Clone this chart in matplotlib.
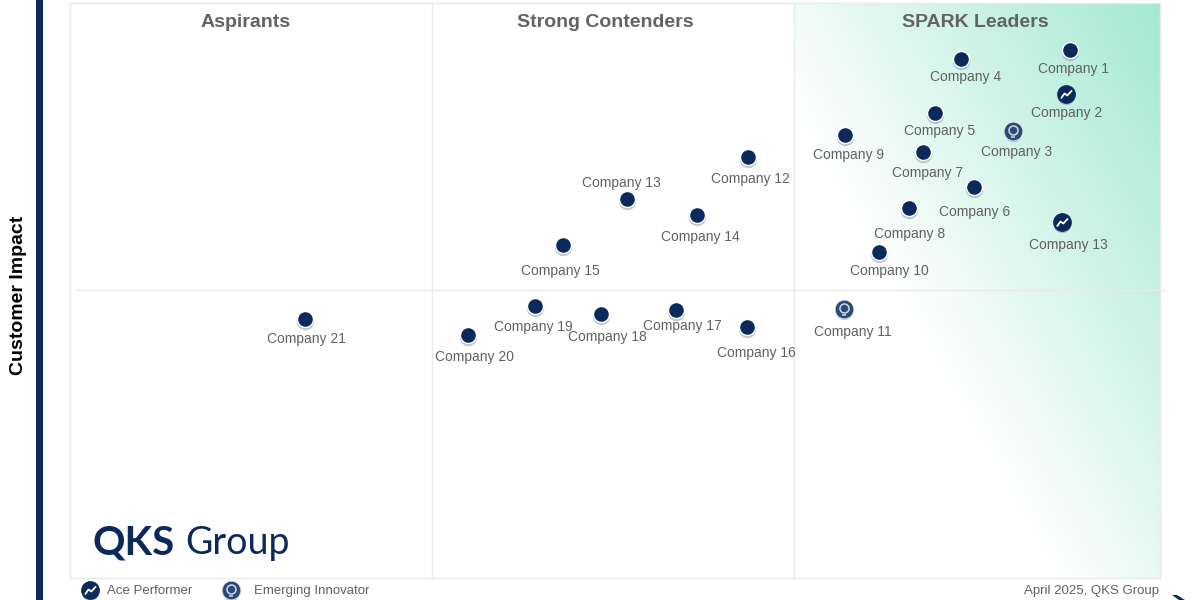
import numpy as np
import matplotlib
matplotlib.use("Agg")
import matplotlib.pyplot as plt
from matplotlib.colors import LinearSegmentedColormap
from matplotlib.patches import Rectangle, Polygon
from matplotlib.path import Path

plt.rcParams['font.family'] = ['Liberation Sans', 'DejaVu Sans']

# --- data (0-100 scales) ---
names = ["Company 1", "Company 2", "Company 3", "Company 4", "Company 5", "Company 6", "Company 7",
         "Company 8", "Company 9", "Company 10", "Company 11", "Company 12", "Company 13", "Company 14",
         "Company 15", "Company 16", "Company 17", "Company 18", "Company 19", "Company 20", "Company 21",
         "Company 13"]
market_impact = [91.7, 91.4, 86.5, 81.7, 79.4, 82.9, 78.3, 77.0, 71.1, 74.2, 71.0,
                 62.2, 51.1, 57.5, 45.2, 62.1, 55.6, 48.7, 42.7, 36.5, 21.6, 91.0]
customer_impact = [91.8, 84.1, 77.7, 90.2, 80.9, 68.0, 74.1, 64.4, 77.1, 56.7, 46.7,
                   73.2, 65.9, 63.2, 57.9, 43.7, 46.6, 45.9, 47.3, 42.3, 45.1, 61.9]
kinds = ["n", "a", "e", "n", "n", "n", "n", "n", "n", "n", "e",
         "n", "n", "n", "n", "n", "n", "n", "n", "n", "n", "a"]
quadrants = ["Aspirants", "Strong Contenders", "SPARK Leaders"]
legend_labels = ["Ace Performer", "Emerging Innovator"]

# label centre offsets from the point, in figure pixels (right, down)
label_offsets = [(4, 19), (0, 19), (4, 21), (5, 18), (4, 18), (1, 25), (4, 21), (0, 26), (4, 20),
                 (11, 19), (9, 23), (2, 22), (-6, -16), (4, 22), (-2, 26), (9, 26), (6, 16), (7, 23),
                 (-2, 21), (7, 22), (1, 20), (6, 23)]

NAVY = "#0b2a5b"
TXT = "#5f6164"
L, R, T, B = 70, 1160, 3, 578

fig = plt.figure(figsize=(12, 6), dpi=100, facecolor="white")
ax = fig.add_axes([L / 1200, 1 - B / 600, (R - L) / 1200, (B - T) / 600])
ax.set_xlim(0, 100)
ax.set_ylim(0, 100)
ax.set_xticks([])
ax.set_yticks([])
for s in ax.spines.values():
    s.set_color("#e8eaec")
    s.set_linewidth(1.0)

# gradient background of leader quadrant
gx, gy = np.meshgrid(np.linspace(1, 0, 300), np.linspace(0, 1, 300))
grad = np.clip(1 - (0.85 * gx + 0.75 * gy), 0, 1)
cmap = LinearSegmentedColormap.from_list("lead", ["#ffffff", "#a3e8d2"])
ax.imshow(grad, extent=(66.4, 100, 0, 100), origin="upper", cmap=cmap, vmin=0, vmax=1,
          aspect="auto", zorder=0)
ax.set_xlim(0, 100)
ax.set_ylim(0, 100)

# quadrant dividers
for xd in (33.2, 66.4):
    ax.plot([xd, xd], [0, 100], color="#e8eaec", lw=1, zorder=1)
ax.plot([0.55, 100.45], [50.1, 50.1], color="#e8eaec", lw=1, zorder=1, clip_on=False)

# quadrant titles
for q, xc in zip(quadrants, (16.15, 49.1, 83.1)):
    ax.text(xc, 96.55, q, ha="center", va="center", fontsize=14, fontweight="bold", color="#636363")

trend = Path([(-0.55, -0.4), (-0.2, 0.1), (0.08, -0.1), (0.55, 0.4)],
             [Path.MOVETO, Path.LINETO, Path.LINETO, Path.LINETO])


def draw_mark(x, y, kind, clip=True):
    kw = dict(clip_on=clip, linestyle="none")
    off_y = -0.35
    ax.plot([x], [y + off_y], marker="o", ms=12.5, mfc="#9aa3ad", mec="none", alpha=0.6, zorder=3, **kw)
    if kind == "n":
        ax.plot([x], [y], marker="o", ms=12.5, mfc="white", mec="none", zorder=4, **kw)
        ax.plot([x], [y], marker="o", ms=10.5, mfc=NAVY, mec="none", zorder=5, **kw)
    elif kind == "a":
        ax.plot([x], [y], marker="o", ms=13.5, mfc=NAVY, mec="none", zorder=5, **kw)
        ax.plot([x], [y], marker=trend, ms=8, mfc="none", mec="white", mew=1.3, zorder=6, **kw)
    else:
        ax.plot([x], [y], marker="o", ms=13.5, mfc="#2c4a78", mec="#dfe5ea", mew=0.6, zorder=5, **kw)
        ax.plot([x], [y + 0.2], marker="o", ms=6.5, mfc="none", mec="#cfd9e6", mew=1.1, zorder=6, **kw)
        ax.plot([x], [y - 0.95], marker="_", ms=3.5, mec="#cfd9e6", mew=1.1, zorder=6, **kw)


for x, y, k, n, (dx, dy) in zip(market_impact, customer_impact, kinds, names, label_offsets):
    draw_mark(x, y, k)
    ax.annotate(n, (x, y), xytext=(dx * 0.72, -dy * 0.72), textcoords="offset points",
                ha="center", va="center", fontsize=10, color=TXT, zorder=7)

# logo
fig.text(93 / 1200, 1 - 543 / 600, "QKS", fontsize=29, fontweight="bold", color=NAVY,
         family=["Lato", "DejaVu Sans"], ha="left", va="center")
fig.text(185 / 1200, 1 - 543 / 600, "Group", fontsize=27, color=NAVY,
         family=["Lato", "DejaVu Sans"], ha="left", va="center")

# axis title and left bar
fig.text(19 / 1200, 1 - 295 / 600, "Customer Impact", rotation=90, fontsize=14, fontweight="bold",
         color="black", ha="center", va="center")
fig.add_artist(Rectangle((36 / 1200, 0), 7 / 1200, 1, transform=fig.transFigure, color=NAVY, lw=0))

# legend
draw_mark(1.8, -2.1, "a", clip=False)
draw_mark(14.8, -2.1, "e", clip=False)
fig.text(107 / 1200, 1 - 591 / 600, legend_labels[0], fontsize=9.5, color=TXT, ha="left", va="center")
fig.text(254 / 1200, 1 - 591 / 600, legend_labels[1], fontsize=9.5, color=TXT, ha="left", va="center")
fig.text(1159 / 1200, 1 - 591 / 600, "April 2025, QKS Group", fontsize=9.5, color=TXT, ha="right", va="center")

# corner arrow fragment
fig.add_artist(Polygon([(1172 / 1200, 1 - 595 / 600), (1177 / 1200, 1 - 595 / 600),
                        (1185 / 1200, 0), (1179 / 1200, 0)],
                       transform=fig.transFigure, color=NAVY, lw=0))

fig.savefig("out.png", dpi=100)
